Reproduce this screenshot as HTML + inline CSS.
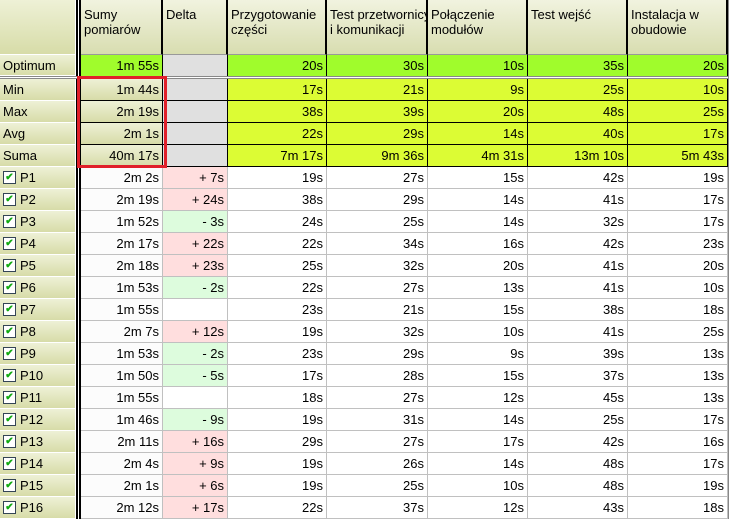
<!DOCTYPE html>
<html><head><meta charset="utf-8"><style>
body{margin:0;width:735px;height:523px;background:#fff;overflow:hidden;font-family:"Liberation Sans",sans-serif;font-size:13px;color:#000}
#g{position:absolute;left:0;top:0;width:735px;height:523px}
.c{position:absolute;box-sizing:border-box;white-space:nowrap;overflow:hidden;padding:0 3px;line-height:21px}
.r{text-align:right}
.lab{background:linear-gradient(#eef1d6,#d7dca8);border-right:1px solid #fff;border-bottom:1px solid #fff}
.hd{background:linear-gradient(#f1f3df,#d8ddb0);line-height:15px;padding-top:7px;border-right:2px solid #000;border-bottom:1px solid #999}
.rl{display:flex;align-items:center}
.cb{display:block;box-sizing:border-box;width:13px;height:13px;border:1px solid #345;background:#fff;margin-right:4px;color:#1a1;font-size:10px;line-height:11px;text-align:center;font-weight:bold;flex:none}
</style></head><body>
<div id="g"></div>
<script>
const rowNames=["P1","P2","P3","P4","P5","P6","P7","P8","P9","P10","P11","P12","P13","P14","P15","P16"];
const sums=["2m 2s","2m 19s","1m 52s","2m 17s","2m 18s","1m 53s","1m 55s","2m 7s","1m 53s","1m 50s","1m 55s","1m 46s","2m 11s","2m 4s","2m 1s","2m 12s"];
const deltas=["+ 7s","+ 24s","- 3s","+ 22s","+ 23s","- 2s","","+ 12s","- 2s","- 5s","","- 9s","+ 16s","+ 9s","+ 6s","+ 17s"];
const stepA=[19,38,24,22,25,22,23,19,23,17,18,19,29,19,19,22];
const stepB=[27,29,25,34,32,27,21,32,29,28,27,31,27,26,25,37];
const stepC=[15,14,14,16,20,13,15,10,9,15,12,14,17,14,10,12];
const stepD=[42,41,32,42,41,41,38,41,39,37,45,25,42,48,48,43];
const stepE=[19,17,17,23,20,10,18,25,13,13,13,17,16,17,19,18];
const headers=["Sumy<br>pomiarów","Delta","Przygotowanie<br>części","Test przetwornicy<br>i komunikacji","Połączenie<br>modułów","Test wejść","Instalacja w<br>obudowie"];
const optimum=["1m 55s","","20s","30s","10s","35s","20s"];
const statNames=["Min","Max","Avg","Suma"];
const stats=[["1m 44s","","17s","21s","9s","25s","10s"],["2m 19s","","38s","39s","20s","48s","25s"],["2m 1s","","22s","29s","14s","40s","17s"],["40m 17s","","7m 17s","9m 36s","4m 31s","13m 10s","5m 43s"]];
const X=[81,163,228,327,428,528,628,728];
const g=document.getElementById('g');
function cell(x,y,w,h,html,cls,st,name){const d=document.createElement('div');d.className='c '+(cls||'');Object.assign(d.style,{left:x+'px',top:y+'px',width:w+'px',height:h+'px'},st||{});d.innerHTML=html;


g.appendChild(d);return d;}
cell(76,0,5,519,'','',{background:'#fff',borderLeft:'2px solid #000',borderRight:'2px solid #000',padding:0},'column-separator');
cell(224,0,4,519,'','',{background:'#fff',borderLeft:'1px solid #999',borderRight:'1px solid #999',padding:0},'column-separator-2');
cell(0,0,76,55,'','lab',{},'corner-header');
headers.forEach((h,i)=>cell(X[i],0,X[i+1]-X[i],55,h,'hd',{},'header-'+i));
cell(0,55,76,21,'Optimum','lab',{},'optimum-label');
optimum.forEach((v,i)=>cell(X[i],55,X[i+1]-X[i],21,v,'r',{background:i==1?'#e0e0e0':'#a0fc2c',borderRight:'1px solid #000',lineHeight:'21px'},'optimum-'+i));
cell(0,76,728,3,'','',{background:'#fff',borderTop:'1px solid #888',borderBottom:'1px solid #888',padding:0},'row-separator');
statNames.forEach((n,r)=>{const y=79+r*22;
 cell(0,y,76,22,n,'lab',{},'stat-label-'+n.toLowerCase());
 stats[r].forEach((v,i)=>cell(X[i],y,X[i+1]-X[i],22,v,'r '+(i==0?'lab':''),{background:i==0?undefined:(i==1?'#e0e0e0':'#dcfc34'),borderRight:'1px solid #000',borderBottom:'1px solid #000'},'stat-'+n.toLowerCase()+'-'+i));
});
rowNames.forEach((n,r)=>{const y=167+r*22;
 cell(0,y,76,22,'<span class="cb">✔</span><span>'+n+'</span>','lab rl',{},'row-label-'+n.toLowerCase());
 const vals=[sums[r],deltas[r],stepA[r]+'s',stepB[r]+'s',stepC[r]+'s',stepD[r]+'s',stepE[r]+'s'];
 vals.forEach((v,i)=>{let bg='#fff';if(i==0)bg='#fcfcfc';if(i==1)bg=v.startsWith('+')?'#ffdede':(v.startsWith('-')?'#ddfcdd':'#fff');
  cell(X[i],y,X[i+1]-X[i],22,v,'r',{background:bg,borderRight:'1px solid #c0c0c0',borderBottom:'1px solid #c0c0c0'},'cell-'+n.toLowerCase()+'-'+i);});
});
cell(728,0,1,519,'','',{background:'#888',padding:0},'right-border');
cell(77,76,90,92,'','',{border:'3px solid #e0202a',background:'transparent',padding:0},'highlight-box');
</script>
</body></html>
